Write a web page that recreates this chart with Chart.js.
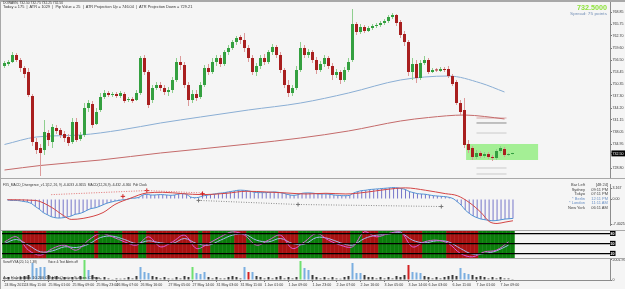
<!DOCTYPE html>
<html lang="en">
<head>
<meta charset="utf-8">
<title>DOWAVN H1</title>
<script src="https://cdn.jsdelivr.net/npm/chart.js@4.4.1/dist/chart.umd.min.js"></script>
<style>
html,body{margin:0;padding:0;background:#f5f5f5;overflow:hidden;}
#wrap{position:relative;width:625px;height:289px;overflow:hidden;background:#f5f5f5;}
#wrap canvas{position:absolute;left:0;}
.t{position:absolute;white-space:pre;font-family:"Liberation Sans",Arial,sans-serif;color:#333;}
.ln{position:absolute;background:#a8a8a8;}
</style>
</head>
<body>
<div id="wrap">
  <canvas id="cMain" width="625" height="178" style="top:0px"></canvas>
  <canvas id="cMacd" width="625" height="51" style="top:179px"></canvas>
  <canvas id="cStoch" width="625" height="27" style="top:231px"></canvas>
  <canvas id="cVol" width="625" height="30" style="top:259px"></canvas>
  <div class="ln" style="left:0;top:0;width:625px;height:1.5px"></div>
  <div class="ln" style="left:0;top:0;width:1px;height:289px"></div>
  <div class="ln" style="left:0;top:178px;width:625px;height:1px"></div>
  <div class="ln" style="left:0;top:230px;width:625px;height:1px"></div>
  <div class="ln" style="left:0;top:258px;width:625px;height:1px"></div>
</div>
<script>
// ---------------- DATA ----------------
const candleOpen = [
754.99,755.50,756.02,757.81,756.53,754.48,753.45,747.29,735.48,733.94,
733.43,737.79,735.48,739.08,738.56,737.54,736.77,735.48,740.62,736.25,
737.28,744.21,745.24,740.10,743.70,747.03,748.06,747.55,747.80,747.29,
747.80,746.26,746.52,746.26,748.06,757.04,753.45,746.26,749.34,750.11,
749.34,748.32,748.83,751.40,756.02,755.25,750.11,746.26,747.80,747.03,
750.11,754.48,753.45,756.02,757.04,755.50,758.58,759.61,761.15,762.43,
761.66,759.61,757.04,753.45,754.99,757.04,756.02,758.58,759.87,757.81,
753.96,750.11,748.06,749.34,753.96,759.61,757.81,758.58,756.53,753.96,
755.50,757.04,754.99,752.68,753.45,751.40,753.96,756.53,765.77,763.72,
765.00,763.97,764.74,765.26,765.51,766.03,766.54,767.57,768.08,766.28,
763.20,761.15,753.45,755.50,751.91,755.76,756.53,753.45,753.96,753.71,
754.22,754.22,752.42,750.88,745.49,743.70,734.97,733.94,731.63,732.66,
731.89,732.40,731.63,731.38,733.17,733.69,732.15,732.40];
const candleHigh = [
756.27,756.53,758.58,758.33,757.04,754.99,754.48,747.80,736.51,734.97,
741.13,738.56,740.10,739.85,739.08,738.31,737.54,741.64,741.64,738.05,
745.49,746.26,746.01,744.21,748.06,748.83,748.57,748.32,748.32,748.57,
748.32,747.03,747.03,748.83,757.56,757.81,753.96,750.11,750.88,750.88,
750.11,749.60,752.17,757.04,757.56,756.02,750.88,748.83,748.83,750.88,
755.25,755.50,757.04,757.81,757.81,759.10,760.38,761.66,762.69,762.95,
763.46,760.38,757.81,755.76,757.81,758.07,759.10,760.64,760.38,758.58,
754.48,751.40,750.11,754.99,761.15,760.38,759.35,759.10,757.30,756.27,
757.81,757.56,755.76,754.22,753.96,754.73,757.04,769.62,766.28,765.77,
765.51,765.26,765.77,766.03,766.54,767.05,768.08,768.59,768.34,766.80,
763.97,761.66,757.04,756.53,756.53,757.56,757.04,754.48,754.48,754.73,
754.73,754.99,752.94,751.40,746.26,746.78,736.00,734.46,733.43,733.17,
732.92,732.92,732.15,733.69,734.46,734.20,732.66,732.75];
const candleLow = [
754.48,754.99,755.76,756.02,753.45,751.91,747.03,734.46,732.40,726.76,
732.15,734.46,733.94,737.54,736.51,735.48,734.46,734.97,735.48,735.74,
736.77,743.18,739.08,739.85,743.18,746.52,747.03,747.03,746.78,746.78,
745.49,745.75,745.49,746.01,747.55,752.68,744.21,745.49,748.83,748.57,
747.55,747.29,748.06,750.88,753.96,749.34,744.72,745.49,746.01,746.52,
749.60,752.68,752.94,754.99,754.73,754.99,757.81,759.10,760.38,760.64,
758.58,756.02,752.68,752.42,754.22,755.25,755.50,757.81,757.04,753.19,
749.34,747.03,747.29,748.83,753.45,757.04,757.04,755.76,752.94,753.45,
754.73,754.22,751.40,751.91,750.37,750.88,753.45,756.02,762.95,763.20,
763.46,763.72,764.23,764.74,765.00,765.51,766.03,767.05,765.26,762.18,
760.12,752.42,751.40,750.63,751.40,755.25,752.94,753.19,753.45,753.45,
753.45,751.91,749.86,744.98,742.41,733.94,732.66,730.86,731.12,731.38,
731.38,731.12,730.61,730.86,732.66,731.63,731.89,732.25];
const candleClose = [
755.76,756.02,757.81,756.53,754.48,752.94,747.55,735.48,733.43,732.66,
738.05,736.00,739.33,738.31,737.28,736.51,735.23,740.62,736.00,737.28,
744.21,745.49,739.85,743.18,747.03,748.06,747.55,747.80,747.29,748.06,
746.01,746.52,746.01,748.06,757.04,753.45,744.98,749.34,750.11,749.34,
748.32,748.83,751.40,756.02,755.25,750.11,746.26,747.80,746.78,750.11,
754.48,753.45,756.02,757.04,755.50,758.58,759.61,761.15,762.18,761.66,
759.61,757.04,753.45,754.99,757.04,756.02,758.58,759.87,757.81,753.96,
750.11,748.06,749.34,753.96,759.61,757.81,758.58,756.53,753.96,755.50,
757.04,754.99,752.68,753.45,751.40,753.96,756.02,765.77,763.72,765.00,
763.97,764.74,765.26,765.51,766.03,766.54,767.57,768.08,766.03,762.95,
761.15,753.45,755.50,751.91,755.76,756.53,753.45,753.96,753.85,754.22,
753.96,752.42,750.37,745.49,743.18,734.71,733.43,731.63,732.66,731.89,
732.40,731.63,731.38,733.17,733.94,732.15,732.40,732.50];

const maBlueIdx = [0,8,19,29,39,49,61,74,86,99,111,119,125];
const maBlueVal = [734.84,736.77,737.28,738.56,740.36,741.90,743.70,745.49,748.06,751.40,752.42,750.63,748.32];
const maRedIdx  = [0,9,24,39,49,61,74,86,99,106,115,120,125];
const maRedVal  = [728.29,729.45,730.86,732.66,733.69,734.97,736.51,738.31,740.87,741.77,742.41,742.03,741.39];

const levelPrices = [741.64,740.36,737.79,728.81,727.27];
const levelSpan = [118,125.5];
const zoneSpan = [115.4,133.4];
const zonePrices = [734.97,730.86];

const lastPrice = 732.50;
const priceTicks = [768.85,765.75,762.70,759.60,756.50,753.45,750.35,747.30,744.20,741.15,738.05,734.95,732.50,728.80];
const priceTickLabels = ['768.85','765.75','762.70','759.60','756.50','753.45','750.35','747.30','744.20','741.15','738.05','734.95','732.50','728.80'];

const macdHist = [
-0.3,-0.4,-0.4,-0.5,-0.7,-0.9,-1.3,-2.2,-3.0,-4.0,-4.6,
-5.2,-5.5,-5.6,-5.5,-5.3,-5.0,-4.5,-4.3,-3.9,-3.3,
-2.8,-2.6,-2.2,-1.7,-1.2,-0.9,-0.6,-0.4,-0.2,-0.1,
0.2,0.3,0.5,1.2,1.4,1.2,1.2,1.3,1.3,1.2,
1.1,1.2,1.5,1.6,1.4,0.6,0.4,0.5,0.9,1.1,
1.3,1.5,1.7,1.8,2.0,2.2,2.4,2.6,2.6,2.5,
2.3,2.0,1.9,1.9,1.9,2.0,2.1,2.0,1.8,1.5,
1.2,1.1,1.3,1.7,1.8,1.8,1.7,1.5,1.5,1.5,
1.4,1.2,1.1,1.0,1.0,1.1,1.8,2.2,2.5,2.6,
2.8,2.9,3.0,3.1,3.2,3.3,3.4,3.3,3.1,2.8,
2.2,1.9,1.6,1.5,1.4,1.2,1.0,0.9,0.8,0.7,
0.5,0.1,-0.8,-1.8,-3.2,-4.2,-5.0,-5.5,-5.9,-6.1,
-6.3,-6.4,-6.3,-6.1,-5.9,-5.8,-5.7];
const macdSignalIdx = [0,7,11,14,16,19,24,27,31,35,39,44,49,55,60,65,70,75,80,85,90,95,100,105,110,113,116,119,121,123,125,127];
const macdSignalVal = [-0.2,-0.4,-2.4,-4.8,-6.0,-5.7,-4.0,-1.6,0.3,1.8,2.0,1.6,1.3,1.7,2.3,2.1,1.8,1.5,1.7,1.5,2.0,2.8,3.3,2.6,1.6,1.0,-1.0,-4.0,-6.6,-7.2,-6.8,-6.4];
const divRedIdx = [11,35,49];
const divRedVal = [1.3,2.5,1.8];
const divRedMarkIdx = [29,35,49];
const divRedMarkVal = [0.8,2.5,1.6];
const divGrayIdx = [48,73,109];
const divGrayVal = [-0.4,-1.6,-2.2];
const macdTicks = [3.167,0,-7.4025];
const macdTickLabels = ['3.167','0.00','-7.4025'];

const trendState = ('GGGGG RRRRRR GGGGGGGGGGGG R GGGGGG RRRR GG RRRRRRRRRRRRR G RR GGGGGG RRR ' +
  'GGGGGGGG RRRRR GGGGGG RRRRRRR GGG RRRR GGGGGG RRRRR GGGGGG RRRRRRRR GGGGGGGGG').replace(/ /g,'');
const stochIdx = [0,3,6,9,12,15,18,21,24,27,30,33,36,39,42,45,48,51,54,57,60,63,66,69,72,75,78,81,84,87,90,93,96,99,102,105,108,111,114,117,120,123,126];
const stochK = [55,70,30,15,35,45,30,60,80,70,55,45,70,40,55,75,35,50,70,85,75,45,60,75,35,55,80,60,45,40,85,70,80,85,40,55,60,50,20,10,25,30,55];
const stochD = [50,62,45,25,28,40,38,48,68,72,62,50,58,52,50,65,50,45,60,75,78,60,55,65,50,48,68,65,52,45,65,75,78,82,60,52,58,55,35,18,20,28,45];
const stochLevels = [80,50,20];

const volumes = [
200,300,150,200,300,400,500,
1700,1200,1300,1300,
500,300,400,200,300,200,300,200,400,
2000,1000,
500,300,200,300,200,100,200,150,200,300,200,400,
1300,800,700,
400,300,200,300,200,150,300,200,400,300,
1300,700,600,800,
300,200,300,200,200,300,400,300,200,
1300,800,800,
400,300,200,300,200,300,400,200,300,200,300,
1900,1200,1000,
500,300,200,300,200,300,200,150,300,400,
1700,700,700,
500,300,300,200,300,200,300,200,400,300,500,
1500,800,750,700,
400,300,200,300,200,300,400,500,400,
1200,700,600,
500,300,400,300,200,300,200,300,200,200,100];
const volumeKind = ('nnnnnnn bbbb nnnnnnnnn gb nnnnnnnnnnnn bbb nnnnnnnnnn gbbb nnnnnnnnn brb ' +
  'nnnnnnnnnnn gbb nnnnnnnnnn bbb nnnnnnnnnnn rbbb nnnnnnnnn bbb nnnnnnnnnnn').replace(/ /g,'');
const volTicks = [2001.95,0];
const volTickLabels = ['2001.95','0'];

const timeTickIdx = [0,5,11,17,23,28,34,41,47,53,59,65,71,77,83,89,95,101,106,112,118,124];
const timeTickLabels = ['24 May 2011','24 May 11:00','25 May 01:00','25 May 09:00','25 May 23:00','26 May 07:00',
  '26 May 16:00','27 May 05:00','27 May 14:00','31 May 03:00','31 May 11:00','1 Jun 01:00','1 Jun 09:00',
  '1 Jun 23:00','2 Jun 07:00','2 Jun 16:00','3 Jun 05:00','3 Jun 14:00','6 Jun 03:00','6 Jun 11:00',
  '7 Jun 01:00','7 Jun 09:00'];

// ---------------- CHARTS ----------------
const FONT = '"Liberation Sans", Arial, sans-serif';
Chart.defaults.font.family = FONT;
Chart.defaults.color = '#333';
const X_MIN = -0.625, X_MAX = 151.375;
const TICK_FONT = {size:3.6, family:FONT};

const common = {responsive:false, animation:false, devicePixelRatio:1, events:[],
  plugins:{legend:{display:false}, tooltip:{enabled:false}}};

function xHidden(){ return {type:'linear', min:X_MIN, max:X_MAX, offset:false, display:false}; }
function yRight(min, max, vals, labels, extra){
  const base = {
    type:'linear', position:'right', min:min, max:max, offset:false,
    afterFit(s){ s.width = 15; s.paddingTop = 0; s.paddingBottom = 0; },
    afterBuildTicks(s){ s.ticks = vals.map(v => ({value:v})); },
    ticks:{font:TICK_FONT, color:'#333', padding:0.5, autoSkip:false,
      callback:(v) => { const k = vals.indexOf(v); return k >= 0 ? labels[k] : ''; }},
    grid:{drawOnChartArea:false, drawTicks:true, tickLength:2, color:'#777'},
    border:{display:true, color:'#8c8c8c', width:1}
  };
  if (extra) {
    if (extra.ticks) Object.assign(base.ticks, extra.ticks);
    if (extra.grid) Object.assign(base.grid, extra.grid);
  }
  return base;
}
const pts = (idx, val) => idx.map((x,k) => ({x:x, y:val[k]}));
const isUp = i => candleClose[i] >= candleOpen[i];

const zonePlugin = {
  id:'zone',
  beforeDatasetsDraw(chart){
    const {ctx, scales:{x, y}} = chart;
    const x0 = x.getPixelForValue(zoneSpan[0]), x1 = x.getPixelForValue(zoneSpan[1]);
    const y0 = y.getPixelForValue(zonePrices[0]), y1 = y.getPixelForValue(zonePrices[1]);
    ctx.save(); ctx.fillStyle = '#a4ef95'; ctx.fillRect(x0, y0, x1 - x0, y1 - y0); ctx.restore();
  }
};

const levelColors = ['#d9a9a9','#8a8a8a','#cacaca','#cacaca','#cacaca'];

new Chart(document.getElementById('cMain'), {
  type:'bar',
  data:{datasets:[
    {type:'bar', data:candleOpen.map((o,i) => ({x:i, y:[o, candleClose[i]]})),
      backgroundColor:c => isUp(c.dataIndex) ? '#34a040' : '#a81f1f',
      barPercentage:0.75, categoryPercentage:1, grouped:false, minBarLength:1, borderWidth:0, order:1, clip:0},
    {type:'bar', data:candleLow.map((l,i) => ({x:i, y:[l, candleHigh[i]]})),
      backgroundColor:c => isUp(c.dataIndex) ? '#8fcf8f' : '#dc9a9a',
      barPercentage:0.25, categoryPercentage:1, grouped:false, borderWidth:0, order:2, clip:0},
    {type:'line', data:pts(maBlueIdx, maBlueVal), borderColor:'#8aaed4', borderWidth:1, pointRadius:0,
      cubicInterpolationMode:'monotone', order:3},
    {type:'line', data:pts(maRedIdx, maRedVal), borderColor:'#c46a6a', borderWidth:1, pointRadius:0,
      cubicInterpolationMode:'monotone', order:3},
    ...levelPrices.map((p,k) => ({type:'line', data:[{x:levelSpan[0], y:p},{x:levelSpan[1], y:p}],
      borderColor:levelColors[k], borderWidth:1, pointRadius:0, order:4}))
  ]},
  options:Object.assign({}, common, {
    layout:{padding:{left:2, top:2, right:0, bottom:0}},
    scales:{
      x:xHidden(),
      y:yRight(726.24, 771.42, priceTicks, priceTickLabels, {ticks:{
        showLabelBackdrop:true,
        backdropPadding:{top:1, bottom:0.6, left:1, right:2},
        backdropColor:c => (c.tick && c.tick.value === lastPrice) ? '#000' : 'rgba(0,0,0,0)',
        color:c => (c.tick && c.tick.value === lastPrice) ? '#fff' : '#333'
      }})
    }
  }),
  plugins:[zonePlugin]
});

new Chart(document.getElementById('cMacd'), {
  type:'bar',
  data:{datasets:[
    {type:'bar', data:macdHist.map((v,i) => ({x:i, y:v})), backgroundColor:'#7676c9',
      barPercentage:0.25, categoryPercentage:1, grouped:false, borderWidth:0, order:6, clip:0},
    {type:'line', data:macdHist.map((v,i) => ({x:i, y:v})), borderColor:'#4f90d2', borderWidth:1,
      pointRadius:0, tension:0.3, order:3},
    {type:'line', data:pts(macdSignalIdx, macdSignalVal), borderColor:'#d34444', borderWidth:1,
      pointRadius:0, cubicInterpolationMode:'monotone', order:2},
    {type:'line', data:pts(divRedIdx, divRedVal), borderColor:'#e07070', borderWidth:1, borderDash:[1,1.5],
      pointRadius:0, order:1},
    {type:'line', data:pts(divRedMarkIdx, divRedMarkVal), showLine:false, pointStyle:'cross',
      pointRadius:2.2, borderColor:'#d02020', borderWidth:1, order:1},
    {type:'line', data:pts(divGrayIdx, divGrayVal), borderColor:'#8c8c8c', borderWidth:1, borderDash:[1,1.5],
      pointRadius:2, pointStyle:'cross', pointBorderColor:'#777', order:1}
  ]},
  options:Object.assign({}, common, {
    layout:{padding:{left:2, top:1, right:0, bottom:1}},
    scales:{x:xHidden(), y:yRight(-7.65, 4.44, macdTicks, macdTickLabels)}
  })
});

new Chart(document.getElementById('cStoch'), {
  type:'bar',
  data:{datasets:[
    {type:'bar', data:trendState.split('').map((s,i) => ({x:i, y:[0,100]})),
      backgroundColor:c => trendState[c.dataIndex] === 'G' ? '#0b7d0b' : '#a81212',
      barPercentage:1.12, categoryPercentage:1, grouped:false, borderWidth:0, order:5, clip:0},
    {type:'line', data:pts(stochIdx, stochD), borderColor:'#a6b6ee', borderWidth:1, pointRadius:0,
      tension:0.35, order:3, clip:0},
    {type:'line', data:pts(stochIdx, stochK), borderColor:'#dc5ad8', borderWidth:1, pointRadius:0,
      tension:0.35, order:2, clip:0}
  ]},
  options:Object.assign({}, common, {
    layout:{padding:{left:2, top:0, right:0, bottom:0}},
    scales:{x:xHidden(), y:yRight(6.5, 87.5, stochLevels, ['80','50','20'], {
      ticks:{showLabelBackdrop:true, backdropColor:'#000', backdropPadding:{top:0.5,bottom:0.3,left:1,right:1},
        color:'#fff', font:{size:3.6, family:FONT, weight:'bold'}},
      grid:{drawOnChartArea:true, drawTicks:false, color:'#000', lineWidth:1.3, z:1}
    })}
  })
});

const volColor = (i) => {
  const k = volumeKind[i];
  if (k === 'b') return '#7aaee0';
  if (k === 'g') return '#6fe06f';
  if (k === 'r') return '#d42222';
  return volumes[i] >= 300 ? '#3c3c3c' : '#9c9c9c';
};
new Chart(document.getElementById('cVol'), {
  type:'bar',
  data:{datasets:[
    {type:'bar', data:volumes.map((v,i) => ({x:i, y:v})), backgroundColor:c => volColor(c.dataIndex),
      barPercentage:0.5, categoryPercentage:1, grouped:false, borderWidth:0, clip:0}
  ]},
  options:Object.assign({}, common, {
    layout:{padding:{left:2, top:0, right:0, bottom:0}},
    scales:{
      x:{type:'linear', min:X_MIN, max:X_MAX, position:'bottom', offset:false,
        afterBuildTicks(s){ s.ticks = timeTickIdx.map(v => ({value:v})); },
        afterFit(s){ s.height = 9; s.paddingLeft = 0; s.paddingRight = 0; },
        ticks:{autoSkip:false, maxRotation:0, minRotation:0, align:'start', padding:0.5, font:TICK_FONT, color:'#333',
          callback:(v) => { const k = timeTickIdx.indexOf(v); return k >= 0 ? timeTickLabels[k] : ''; }},
        grid:{drawOnChartArea:false, drawTicks:true, tickLength:2, color:'#777', offset:false},
        border:{display:true, color:'#8c8c8c', width:1}},
      y:yRight(0, 2100, volTicks, volTickLabels)
    }
  })
});

// ---------------- TEXTS ----------------
const wrap = document.getElementById('wrap');
const mctx = document.createElement('canvas').getContext('2d');
function addText(o){
  const d = document.createElement('div');
  d.className = 't';
  d.textContent = o.t;
  const font = (o.b ? 'bold ' : '') + o.s + 'px ' + FONT;
  d.style.font = font;
  d.style.lineHeight = o.s + 'px';
  d.style.color = o.c || '#333';
  mctx.font = font;
  const nat = mctx.measureText(o.t).width;
  const sx = o.w ? o.w / nat : 1;
  const w = nat * sx;
  const left = (o.r !== undefined) ? o.r - w : o.x;
  d.style.left = left + 'px';
  d.style.top = (o.y - o.s / 2) + 'px';
  d.style.transformOrigin = '0 0';
  d.style.transform = 'scaleX(' + sx + ')';
  wrap.appendChild(d);
}
addText({t:'DOWAVN, 732.50 732.75 732.25 732.50', x:3, y:3.4, s:4, w:60});
addText({t:'Today = 175  |  ATR = 1029  |  Pip Value = 25  |  ATR Projection Up = 746.04  |  ATR Projection Down = 729.21', x:3, y:7.2, s:4, w:190});
addText({t:'732.5000', r:607, y:7.4, s:7, w:30, c:'#8ee23c', b:true});
addText({t:'Spread: 75 points', r:607, y:13.6, s:4.2, w:37, c:'#7591b8'});
addText({t:'FX5_MACD_Divergence_v1.1(12, 26, 9) -6.4033 -6.3655  MACD(12,26,9) -6.432 -6.360  Pdt Clock', x:3, y:185, s:4, w:144});
const clockRows = [['Bar Left','[48:24]','#444'],['Sydney','09:11 PM','#444'],['Tokyo','07:11 PM','#444'],
  ['* Berlin','12:11 PM','#6a90c4'],['* London','11:11 AM','#6a90c4'],['New York','06:11 AM','#444']];
clockRows.forEach((r,k) => {
  const y = 185 + k * 4.5;
  addText({t:r[0], r:585, y:y, s:4, c:r[2]});
  addText({t:r[1], r:608, y:y, s:4, c:r[2]});
});
addText({t:'Sonoff VSA (20, 10, 1.38)', x:3, y:261.6, s:4, w:34});
addText({t:'Voice & Text Alerts off', x:48, y:261.6, s:4, w:30});
addText({t:'Ave HoleTrades 10.200 0 8 HoleQuotes Sufixes Climax', x:3, y:277.6, s:4, w:97});
</script>
</body>
</html>
